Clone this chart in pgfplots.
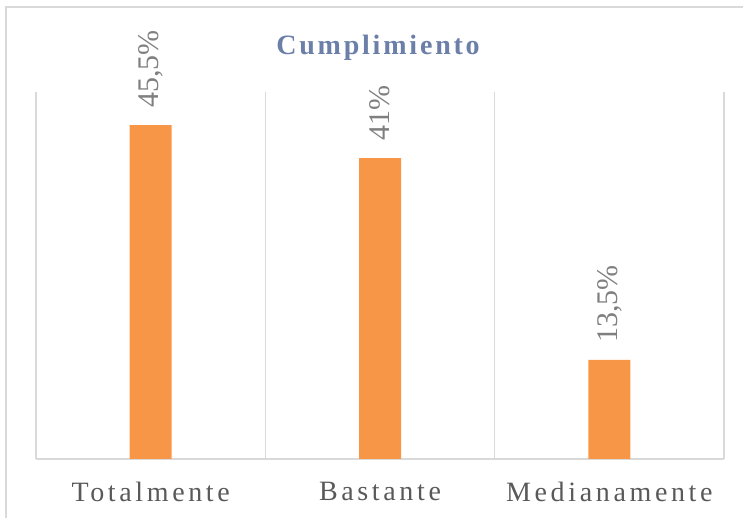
\documentclass[border=0pt]{standalone}
\usepackage{pgfplots}
\pgfplotsset{compat=1.18}
\usepackage{fontspec}
\setmainfont{Liberation Serif}
\newfontfamily\lblfont[LetterSpace=13]{Liberation Serif}
\newfontfamily\ttlfont[LetterSpace=10]{Liberation Serif}
\definecolor{barorange}{HTML}{F79646}
\definecolor{gridgray}{HTML}{D9D9D9}
\definecolor{lblgray}{HTML}{595959}
\definecolor{datagray}{HTML}{7F7F7F}
\definecolor{ttlblue}{HTML}{6B7FA8}
\begin{document}
\begin{tikzpicture}
\begin{axis}[
  at={(18pt,29.5pt)}, anchor=south west,
  scale only axis, width=344pt, height=183.5pt,
  xmin=-0.5, xmax=2.5, ymin=0, ymax=50,
  axis y line=none,
  axis x line*=bottom,
  x axis line style={-, draw=gridgray, line width=0.8pt},
  xtick={0,1,2},
  xticklabels={Totalmente,Bastante,Medianamente},
  major tick length=0pt,
  minor xtick={-0.5,0.5,1.5,2.5},
  minor tick length=0pt,
  xminorgrids=true,
  minor grid style={draw=gridgray, line width=0.8pt},
  xticklabel style={font=\fontsize{14}{16}\selectfont\lblfont, text=lblgray, yshift=-8pt},
  /pgf/number format/assume math mode=true,
  clip=false,
]
\addplot[ybar, bar width=21pt, fill=barorange, draw=none,
  nodes near coords={\pgfmathprintnumber[use comma]{\pgfplotspointmeta}\%},
  every node near coord/.append style={rotate=90, anchor=west, font=\fontsize{15}{17}\selectfont, text=datagray, inner xsep=8.5pt, inner ysep=0pt},
  ] coordinates {(0,45.5) (1,41) (2,13.5)};
\end{axis}
\node[anchor=base, font=\fontsize{14}{16}\selectfont\ttlfont\bfseries, text=ttlblue] at (189pt,231.5pt) {Cumplimiento};
\draw[gridgray, line width=0.8pt] (3pt,-5pt) -- (3pt,255.5pt) -- (380pt,255.5pt);
\pgfresetboundingbox
\path[use as bounding box] (0,0) rectangle (371.5pt,259pt);
\end{tikzpicture}
\end{document}
